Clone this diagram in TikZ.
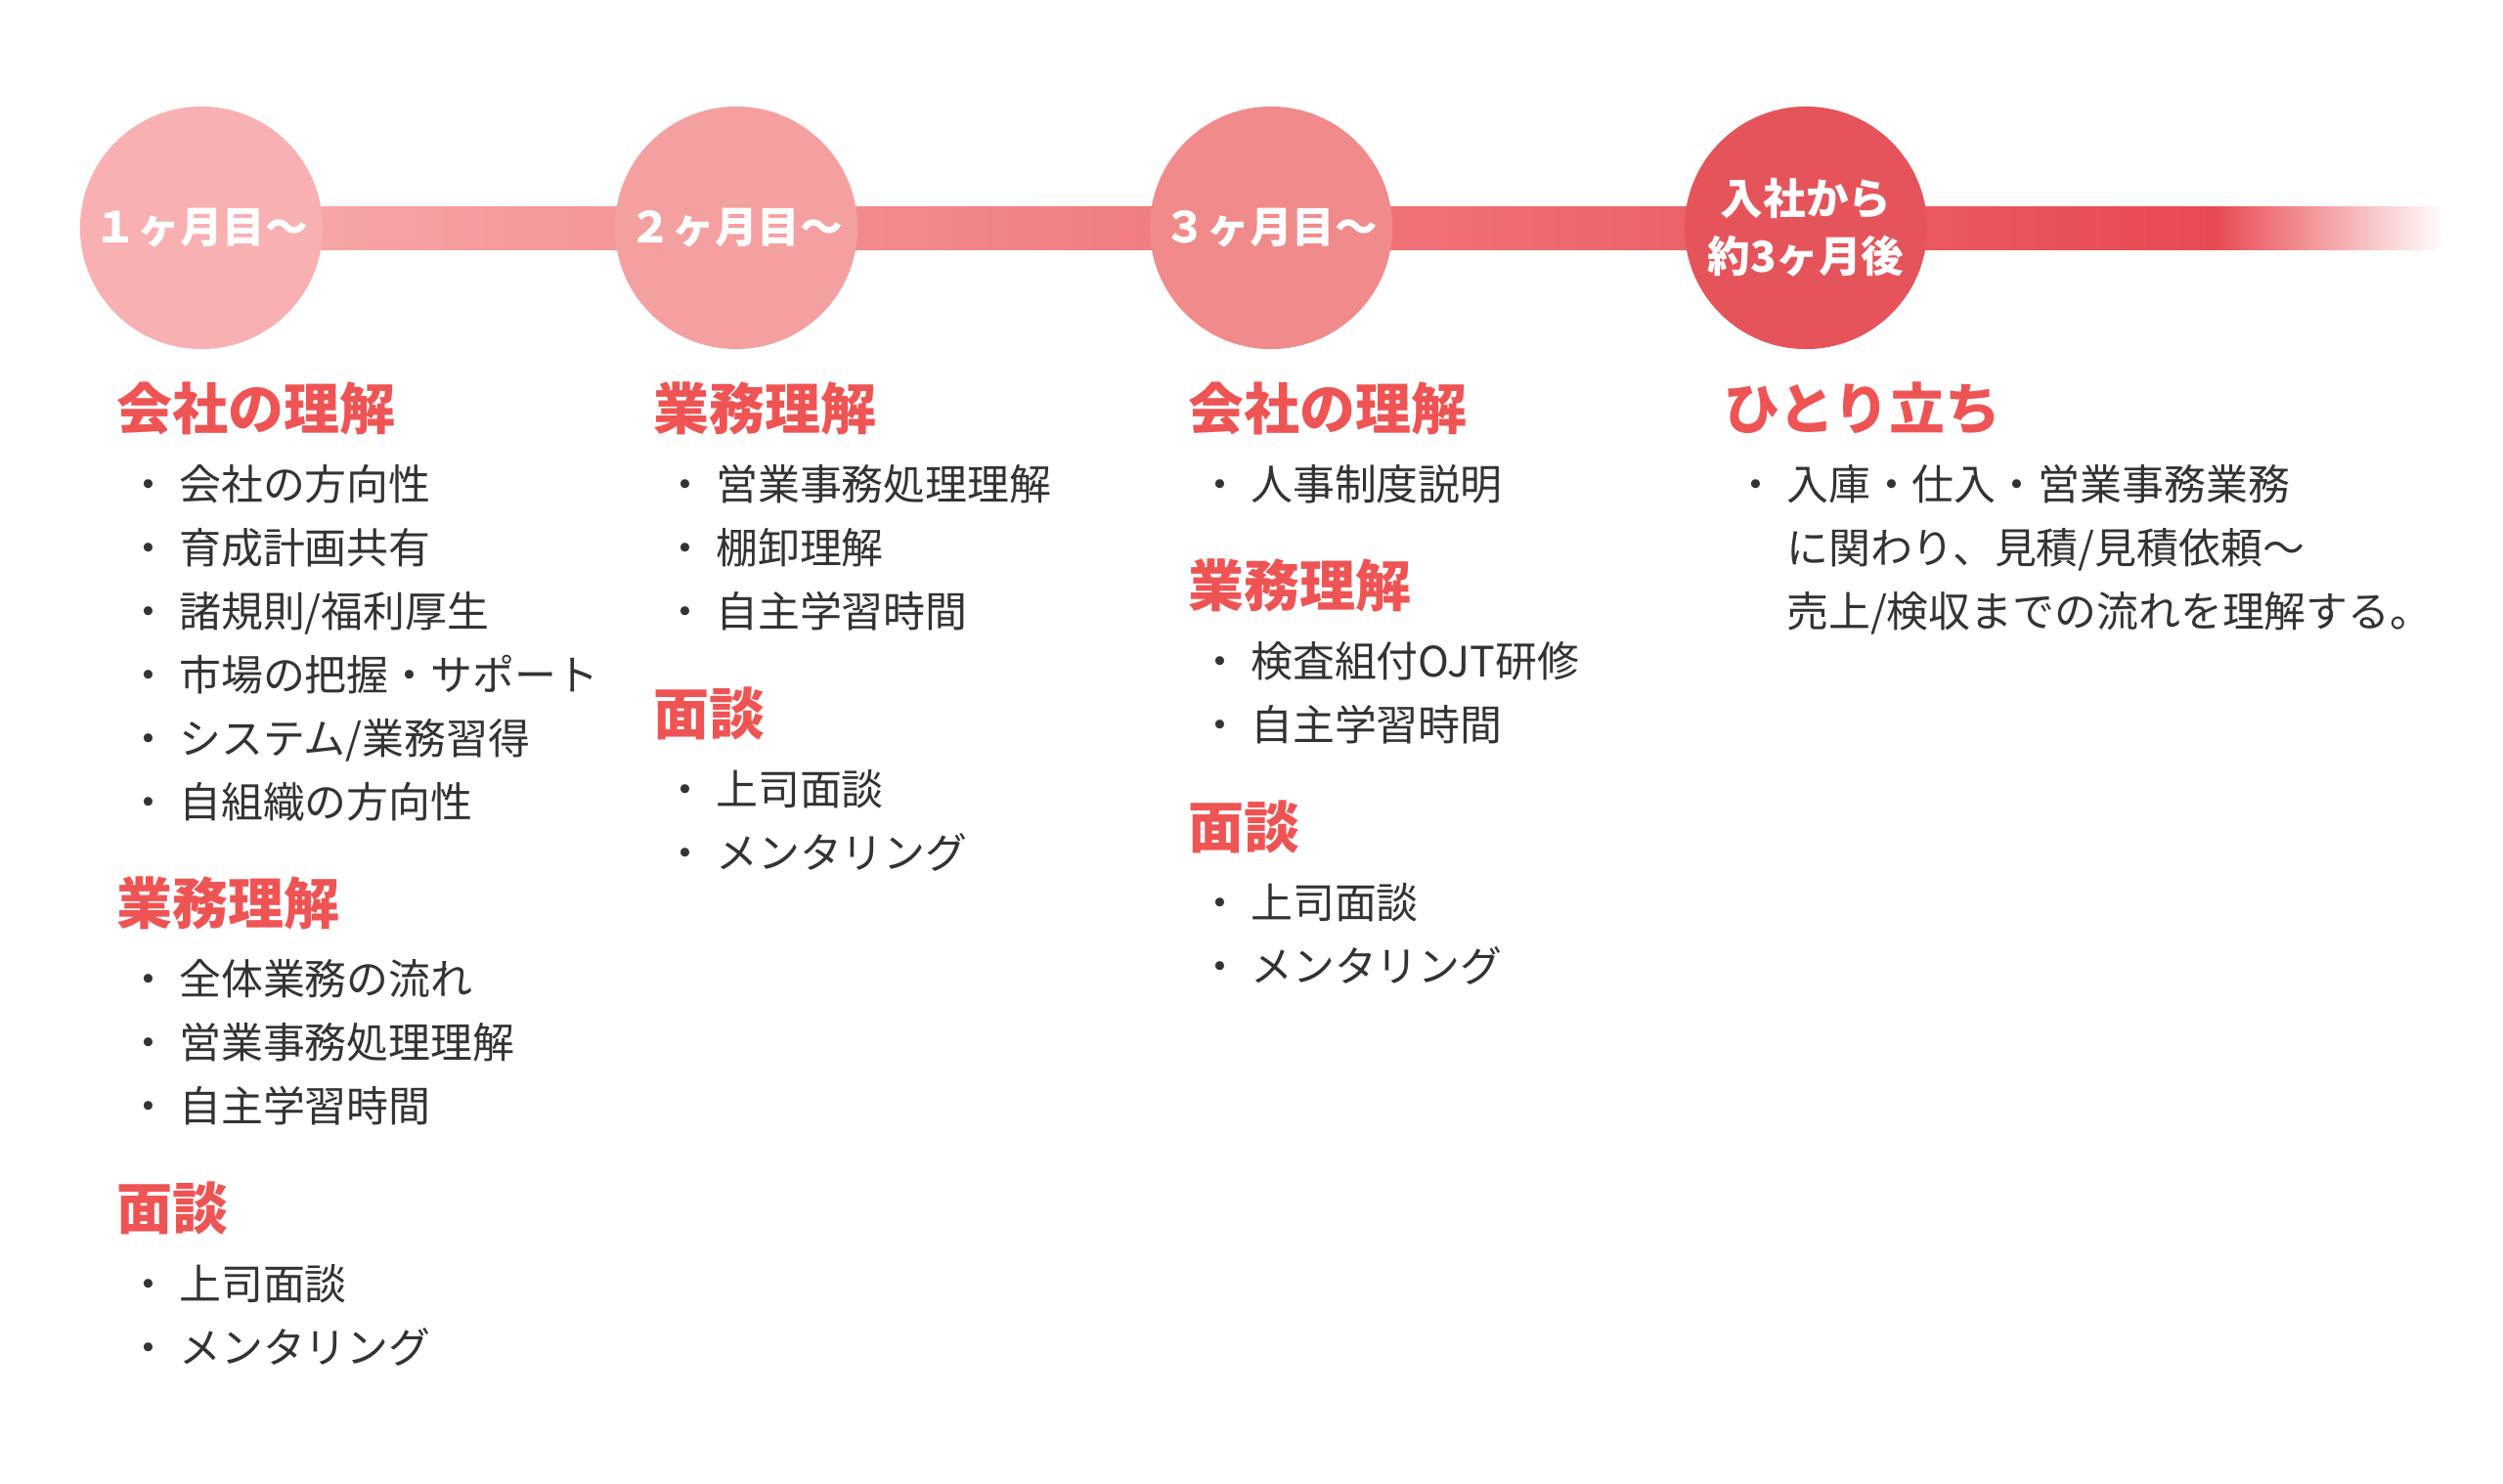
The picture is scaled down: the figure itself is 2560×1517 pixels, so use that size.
\documentclass[tikz,border=0pt]{standalone}
\usepackage{fontspec}
\setmainfont{Noto Sans CJK JP}
\usetikzlibrary{positioning,backgrounds}
\definecolor{monA}{HTML}{F8B0B2}
\definecolor{monB}{HTML}{F4A0A1}
\definecolor{monC}{HTML}{F08A8B}
\definecolor{monD}{HTML}{E5545A}
\definecolor{barL}{HTML}{F7AAAC}
\definecolor{barR}{HTML}{E84A52}
\definecolor{hdred}{HTML}{EF5454}
\definecolor{txgray}{HTML}{333333}

\begin{document}
\begin{tikzpicture}[x=0.01cm,y=-0.01cm,
      mon/.style={circle,minimum size=2.48cm,inner sep=0pt,text=white,align=center,
        font=\bfseries\fontsize{12.4}{16.8}\selectfont},
      hd/.style={anchor=west,inner sep=0pt,text=hdred,text height=.88em,text depth=.12em,
        font=\bfseries\fontsize{16.2}{20}\selectfont},
      it/.style={anchor=west,inner sep=0pt,text=txgray,text height=.88em,text depth=.12em,
        font=\fontsize{12.2}{18.6}\selectfont}]
  \useasboundingbox (0,0) rectangle (2560,1517);
  % timeline circles
  \node[mon,fill=monA] (m1) at (206,233) {１ヶ月目〜};
  \node[mon,fill=monB] (m2) at (753,233) {２ヶ月目〜};
  \node[mon,fill=monC] (m3) at (1300,233) {３ヶ月目〜};
  \node[mon,fill=monD] (m4) at (1847,233) {入社から\\約3ヶ月後};
  \coordinate (fd) at (2265,233);
  \coordinate (tend) at (2500,233);
  \begin{scope}[on background layer]
    \shade[left color=barL,right color=barR] ([yshift=.22cm]m1.center) rectangle ([yshift=-.22cm]fd);
    \shade[left color=barR,right color=white] ([yshift=.22cm]fd) rectangle ([yshift=-.22cm]tend);
  \end{scope}

  % 1 month
  \node[hd] (h1a) at (119,426) {会社の理解};
  \foreach \t [count=\i from 0] in {会社の方向性,育成計画共有,諸規則/福利厚生,市場の把握・サポート,システム/業務習得,自組織の方向性}
    \node[it] (c1a\i) at (130,{498+65*\i}) {・ \t};
  \node[hd] (h1b) at (119,932) {業務理解};
  \foreach \t [count=\i from 0] in {全体業務の流れ,営業事務処理理解,自主学習時間}
    \node[it] (c1b\i) at (130,{1004+65*\i}) {・ \t};
  \node[hd] (h1c) at (119,1244) {面談};
  \foreach \t [count=\i from 0] in {上司面談,メンタリング}
    \node[it] (c1c\i) at (130,{1316+65*\i}) {・ \t};

  % 2 months
  \node[hd] (h2a) at (668,426) {業務理解};
  \foreach \t [count=\i from 0] in {営業事務処理理解,棚卸理解,自主学習時間}
    \node[it] (c2a\i) at (679,{498+65*\i}) {・ \t};
  \node[hd] (h2b) at (668,738) {面談};
  \foreach \t [count=\i from 0] in {上司面談,メンタリング}
    \node[it] (c2b\i) at (679,{810+65*\i}) {・ \t};

  % 3 months
  \node[hd] (h3a) at (1215,426) {会社の理解};
  \node[it] (c3a0) at (1226,498) {・ 人事制度説明};
  \node[hd] (h3b) at (1215,607) {業務理解};
  \foreach \t [count=\i from 0] in {検査組付OJT研修,自主学習時間}
    \node[it] (c3b\i) at (1226,{679+65*\i}) {・ \t};
  \node[hd] (h3c) at (1215,854) {面談};
  \foreach \t [count=\i from 0] in {上司面談,メンタリング}
    \node[it] (c3c\i) at (1226,{926+65*\i}) {・ \t};

  % standalone
  \node[hd] (h4a) at (1763,426) {ひとり立ち};
  \node[it] (c4a0) at (1774,498) {・ 入庫・仕入・営業事務業務};
  \node[it] (c4a1) at (1774,563) {\hphantom{・ }に関わり、見積/見積依頼〜};
  \node[it] (c4a2) at (1774,628) {\hphantom{・ }売上/検収までの流れを理解する。};
\end{tikzpicture}
\end{document}
